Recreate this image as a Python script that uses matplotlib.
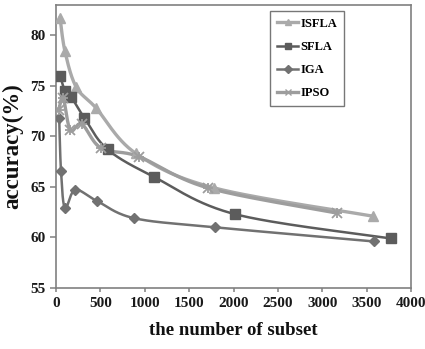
import numpy as np
import matplotlib
matplotlib.use("Agg")
import matplotlib.pyplot as plt
from matplotlib.lines import Line2D

plt.rcParams['font.family'] = ['Liberation Serif', 'DejaVu Serif']

# subset counts and accuracy (%) for each algorithm
isfla_x = [45, 100, 225, 450, 900, 1780, 3570]
isfla_y = [81.7, 78.4, 74.9, 72.8, 68.3, 64.9, 62.1]

sfla_x = [45, 100, 170, 320, 580, 1100, 2015, 3770]
sfla_y = [76.0, 74.5, 73.9, 71.8, 68.7, 66.0, 62.3, 59.9]

iga_x = [35, 55, 100, 215, 460, 880, 1790, 3580]
iga_y = [71.8, 66.6, 62.9, 64.7, 63.6, 61.9, 61.0, 59.6]

ipso_x = [30, 80, 160, 290, 510, 930, 1710, 3170]
ipso_y = [72.6, 73.8, 70.6, 71.2, 68.8, 68.0, 64.9, 62.4]

labels = ['ISFLA', 'SFLA', 'IGA', 'IPSO']
x_ticks = [0, 500, 1000, 1500, 2000, 2500, 3000, 3500, 4000]
y_ticks = [55, 60, 65, 70, 75, 80]


def smooth(ax, xs, ys, n=30):
    """Catmull-Rom style smoothing through the data points (display space)."""
    pts = ax.transData.transform(np.column_stack([xs, ys]))
    p = np.vstack([pts[0], pts, pts[-1]])
    out = []
    for i in range(1, len(p) - 2):
        p0, p1, p2, p3 = p[i - 1], p[i], p[i + 1], p[i + 2]
        c1 = p1 + (p2 - p0) / 6.0
        c2 = p2 - (p3 - p1) / 6.0
        t = np.linspace(0, 1, n)[:, None]
        seg = ((1 - t) ** 3) * p1 + 3 * ((1 - t) ** 2) * t * c1 + 3 * (1 - t) * t ** 2 * c2 + t ** 3 * p2
        out.append(seg if i == 1 else seg[1:])
    out = np.vstack(out)
    data = ax.transData.inverted().transform(out)
    return data[:, 0], data[:, 1]


fig = plt.figure(figsize=(4.25, 3.49), dpi=100)
ax = fig.add_axes([0.132, 0.175, 0.835, 0.811])
ax.set_xlim(0, 4000)
ax.set_ylim(55, 83)

series = [
    (isfla_x, isfla_y, '#aaaaaa', '^', 7.5, 2.4),
    (sfla_x, sfla_y, '#5c5c5c', 's', 6.5, 1.8),
    (iga_x, iga_y, '#717171', 'D', 5.2, 1.8),
    (ipso_x, ipso_y, '#9d9d9d', 'x', 7, 2.4),
]

handles = []
for (xs, ys, col, mk, ms, lw), lab in zip(series, labels):
    sx, sy = smooth(ax, xs, ys)
    ax.plot(sx, sy, color=col, lw=lw, zorder=2)
    if mk == 'x':
        ax.plot(xs, ys, ls='none', marker='x', ms=ms, mew=1.3, color=col, zorder=3)
        ax.plot(xs, ys, ls='none', marker='+', ms=ms, mew=1.3, color=col, zorder=3)
    else:
        ax.plot(xs, ys, ls='none', marker=mk, ms=ms, color=col, mec=col, zorder=3)
    handles.append(Line2D([], [], color=col, lw=lw, marker=mk, ms=4, mew=1))

ax.set_xticks(x_ticks)
ax.set_yticks(y_ticks)
for s in ax.spines.values():
    s.set_color('#808080')
    s.set_linewidth(1.2)
ax.tick_params(axis='both', direction='out', colors='#808080', length=4, width=1.1)
ax.tick_params(axis='x', length=3)
for lbl in ax.get_xticklabels() + ax.get_yticklabels():
    lbl.set_color('#1a1a1a')
    lbl.set_fontweight('bold')
    lbl.set_fontsize(11)

ax.set_xlabel('the number of subset', fontsize=13.5, fontweight='bold', color='#111111', labelpad=9)
ax.set_ylabel('accuracy(%)', fontsize=16.5, fontweight='bold', color='#111111', labelpad=5)

leg = ax.legend(handles, labels, loc='upper left', bbox_to_anchor=(0.603, 0.979),
                handlelength=1.7, handletextpad=0.15, labelspacing=0.9,
                borderpad=0.55, borderaxespad=0, fancybox=False, framealpha=1,
                prop={'weight': 'bold', 'size': 9})
leg.get_frame().set_edgecolor('#777777')
leg.get_frame().set_linewidth(1.0)

fig.savefig('out.png', dpi=100)
